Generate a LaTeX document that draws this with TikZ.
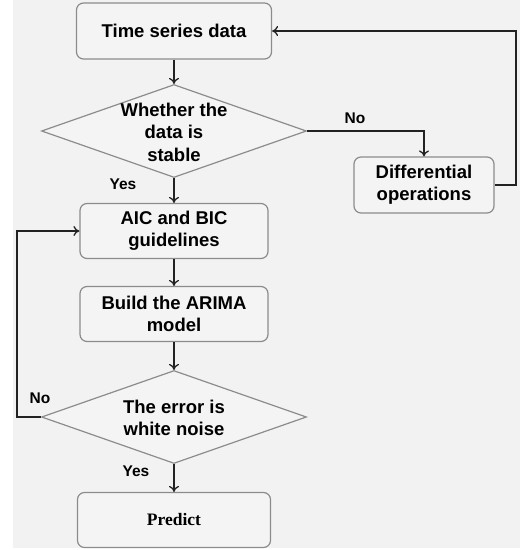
\documentclass[tikz,border=0pt]{standalone}
\usepackage{fontspec}
\setmainfont{Liberation Sans}
\newfontfamily\serifpredict{Liberation Serif}
\usetikzlibrary{shapes.geometric,arrows.meta}
\definecolor{bggray}{HTML}{F2F2F2}
\definecolor{boxfill}{HTML}{F4F4F4}
\definecolor{edgegray}{HTML}{8C8C8C}
\definecolor{linedark}{HTML}{222222}
\begin{document}
\begin{tikzpicture}[x=1pt,y=-1pt,
  procbox/.style={draw=edgegray,fill=boxfill,line width=1.2pt,rounded corners=7pt,
    align=center,font=\fontsize{18.5}{22}\selectfont\bfseries,inner sep=0pt},
  decbox/.style={draw=edgegray,fill=boxfill,line width=1.2pt,shape=diamond,
    minimum width=265pt,minimum height=93pt,inner sep=0pt},
  dectext/.style={align=center,font=\fontsize{18.5}{22.5}\selectfont\bfseries,inner sep=0pt},
  flow/.style={draw=linedark,line width=1.3pt,-{To[length=6pt,width=10pt]}},
  lbl/.style={font=\fontsize{15.5}{18}\selectfont\bfseries,inner sep=0pt}]
\useasboundingbox (0,0) rectangle (520,550);
\fill[bggray] (13,0) rectangle (520,548);
% nodes
\node[procbox,minimum width=195pt,minimum height=56pt] (ts) at (174,31) {Time series data};
\node[decbox] (d1) at (174,131) {};
\node[dectext] (d1t) at (174,132) {Whether the\\data is\\stable};
\node[procbox,minimum width=140pt,minimum height=56pt] (diff) at (424,185) {Differential\\operations};
\node[procbox,minimum width=188pt,minimum height=55pt] (aic) at (174,231) {AIC and BIC\\guidelines};
\node[procbox,minimum width=188pt,minimum height=55pt] (build) at (174,314) {Build the ARIMA\\model};
\node[decbox] (d2) at (174,417) {};
\node[dectext] (d2t) at (174,418) {The error is\\white noise};
\node[procbox,minimum width=193pt,minimum height=55pt,font=\fontsize{17.5}{20}\selectfont\serifpredict\bfseries] (pred) at (174,520) {Predict};
\coordinate (rt) at (516,31);
\coordinate (lt) at (17,231);
% connectors
\draw[flow] (ts.south) -- (d1.north);
\draw[flow] (d1.south) -- (aic.north);
\draw[flow] (aic.south) -- (build.north);
\draw[flow] (build.south) -- (d2.north);
\draw[flow] (d2.south) -- (pred.north);
\draw[flow] (d1.east) -| (diff.north);
\draw[flow] (diff.east) -| (rt) -- (ts.east);
\draw[flow] (d2.west) -| (lt) -- (aic.west);
% labels
\node[lbl] (no1) at (355,118) {No};
\node[lbl] (yes1) at (123,184) {Yes};
\node[lbl] (no2) at (40,398) {No};
\node[lbl] (yes2) at (136,471) {Yes};
\end{tikzpicture}
\end{document}
